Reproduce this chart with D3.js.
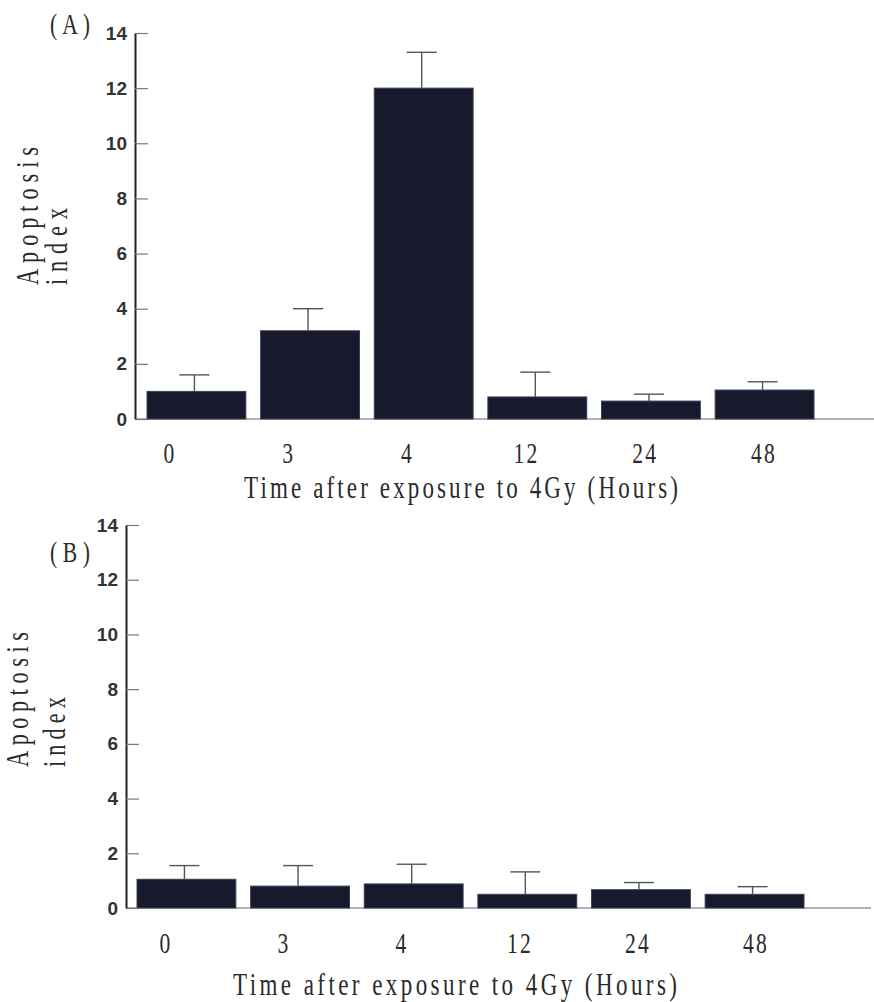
<!DOCTYPE html>
<html>
<head>
<meta charset="utf-8">
<script src="https://cdn.jsdelivr.net/npm/d3@7"></script>
<style>
  html, body { margin: 0; padding: 0; background: #fff; }
  svg { display: block; }
</style>
</head>
<body>
<svg id="chart" width="874" height="1002"></svg>
<script>
// ---- data ----
const categories = ["0", "3", "4", "12", "24", "48"];
const valuesA = [1.0, 3.2, 12.0, 0.8, 0.65, 1.05];
const errorsA = [0.6, 0.8, 1.3, 0.9, 0.25, 0.3];
const valuesB = [1.05, 0.8, 0.88, 0.5, 0.67, 0.5];
const errorsB = [0.5, 0.75, 0.72, 0.82, 0.26, 0.28];
const yTicks = [0, 2, 4, 6, 8, 10, 12, 14];
const xTitle = "Time after exposure to 4Gy (Hours)";
const yTitle1 = "Apoptosis";
const yTitle2 = "index";

// ---- layout ----
const panels = [
  { tag: "(A)", values: valuesA, errors: errorsA,
    axisX: 135, yTop: 33, yBottom: 419, barRange: [147, 814], labelRange: [170, 764],
    labelBase: 463, titleX: 461, titleBase: 498, titleW: 434,
    tagX: 70, tagBase: 34, yl1: [38, 285, 138], yl2: [67, 285, 77], lineEnd: 874 },
  { tag: "(B)", values: valuesB, errors: errorsB,
    axisX: 126, yTop: 525, yBottom: 908, barRange: [137, 804], labelRange: [166, 756],
    labelBase: 953, titleX: 455, titleBase: 995, titleW: 444,
    tagX: 70, tagBase: 562, yl1: [28, 767, 135], yl2: [65, 767, 70], lineEnd: 871 }
];

const svg = d3.select("#chart");
const serif = "'Liberation Serif', 'Times New Roman', serif";
const sans = "'Liberation Sans', Arial, sans-serif";
const SX = 0.72;

function condensedText(g, x, y, txt, size, width, anchor, rotate) {
  const grp = g.append("g")
    .attr("transform", `translate(${x},${y})` + (rotate ? " rotate(-90)" : "") + ` scale(${SX},1)`);
  const t = grp.append("text")
    .attr("x", 0).attr("y", 0)
    .attr("font-family", serif)
    .attr("font-size", size)
    .attr("fill", "#2a2a2a")
    .attr("text-anchor", anchor)
    .text(txt);
  if (width) t.attr("textLength", width / SX).attr("lengthAdjust", "spacing");
  return t;
}

panels.forEach(p => {
  const g = svg.append("g");
  const y = d3.scaleLinear().domain([0, 14]).range([p.yBottom, p.yTop]);
  const x = d3.scaleBand().domain(categories).range(p.barRange).paddingInner(0.13).paddingOuter(0);
  const xl = d3.scalePoint().domain(categories).range(p.labelRange);

  // x baseline
  g.append("line")
    .attr("x1", p.axisX).attr("x2", p.lineEnd)
    .attr("y1", y(0)).attr("y2", y(0))
    .attr("stroke", "#666").attr("stroke-width", 1.2);

  // bars
  g.selectAll("rect.bar").data(p.values).join("rect")
    .attr("class", "bar")
    .attr("x", (d, i) => x(categories[i]))
    .attr("width", x.bandwidth())
    .attr("y", d => y(d))
    .attr("height", d => y(0) - y(d))
    .attr("fill", "#161a2c")
    .attr("stroke", "#3b3f57")
    .attr("stroke-width", 1);

  // error bars (upper only)
  const eb = g.selectAll("g.err").data(p.values).join("g").attr("class", "err");
  eb.append("line")
    .attr("x1", (d, i) => x(categories[i]) + x.bandwidth() / 2 - 2)
    .attr("x2", (d, i) => x(categories[i]) + x.bandwidth() / 2 - 2)
    .attr("y1", d => y(d))
    .attr("y2", (d, i) => y(d + p.errors[i]))
    .attr("stroke", "#555").attr("stroke-width", 1.4);
  eb.append("line")
    .attr("x1", (d, i) => x(categories[i]) + x.bandwidth() / 2 - 17)
    .attr("x2", (d, i) => x(categories[i]) + x.bandwidth() / 2 + 13)
    .attr("y1", (d, i) => y(d + p.errors[i]))
    .attr("y2", (d, i) => y(d + p.errors[i]))
    .attr("stroke", "#555").attr("stroke-width", 1.4);

  // y axis
  const ax = g.append("g")
    .attr("transform", `translate(${p.axisX},0)`)
    .call(d3.axisLeft(y).tickValues(yTicks).tickSize(-13).tickSizeOuter(0).tickPadding(8).tickFormat(d3.format("d")));
  ax.select(".domain").attr("stroke", "#222").attr("stroke-width", 2);
  ax.selectAll(".tick line").attr("stroke", "#777").attr("stroke-width", 1.2);
  ax.selectAll(".tick text")
    .attr("font-family", sans).attr("font-size", 19).attr("font-weight", "bold")
    .attr("fill", "#333");

  // category labels
  categories.forEach(c => {
    condensedText(g, xl(c), p.labelBase, c, 30, c.length > 1 ? 26 : null, "middle", false)
      .attr("letter-spacing", 3);
  });

  // x title
  condensedText(g, p.titleX, p.titleBase, xTitle, 32, p.titleW, "middle", false);

  // y titles
  condensedText(g, p.yl1[0], p.yl1[1], yTitle1, 31, p.yl1[2], "start", true);
  condensedText(g, p.yl2[0], p.yl2[1], yTitle2, 31, p.yl2[2], "start", true);

  // panel tag
  condensedText(g, p.tagX, p.tagBase, p.tag, 30, 40, "middle", false);
});
</script>
</body>
</html>
